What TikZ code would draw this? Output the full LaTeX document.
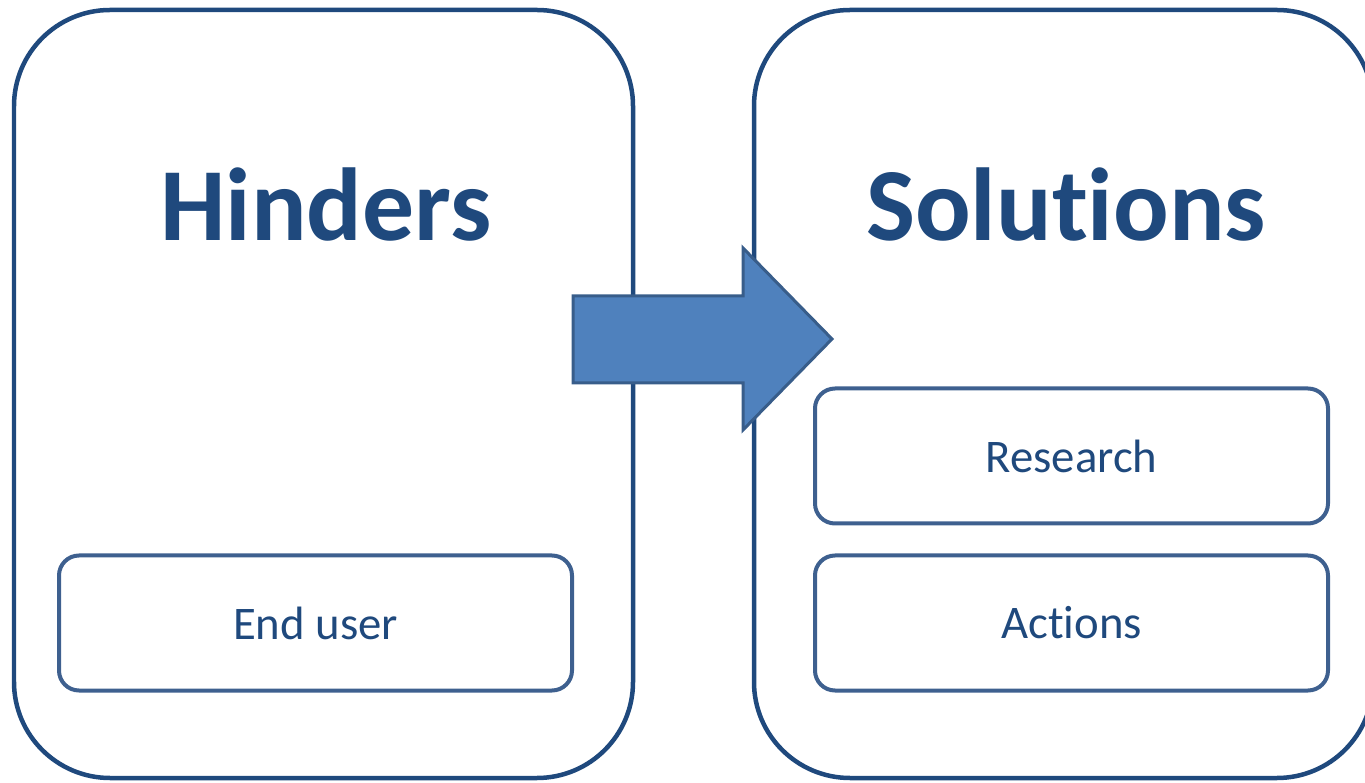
\documentclass[tikz,border=0pt]{standalone}
\usepackage{fontspec}
\setmainfont[Ligatures=NoCommon]{Carlito}
\usepackage{tikz}
\usetikzlibrary{shapes.geometric}

\definecolor{boxblue}{RGB}{31,73,125}
\definecolor{innerblue}{RGB}{62,96,143}
\definecolor{arrowfill}{RGB}{79,129,189}
\definecolor{arrowline}{RGB}{56,93,138}

\begin{document}
\begin{tikzpicture}
\tikzstyle{bigbox}=[rectangle, draw=boxblue, line width=0.09cm, rounded corners=1.92cm,
    minimum width = 12.38cm, minimum height = 15.36cm]
\tikzstyle{itembox}=[rectangle, draw=innerblue, line width=0.08cm, rounded corners=0.4cm,
    minimum width = 10.26cm, minimum height = 2.7cm, text=boxblue,
    font=\fontsize{26.6}{31}\selectfont]
\tikzstyle{title}=[anchor=base, text=boxblue, inner sep=0pt,
    font=\fontsize{59}{70}\selectfont\bfseries]
\useasboundingbox (0,0) rectangle (27.3,15.64);

    \node[bigbox] (hind) at (6.47,7.76) {};
    \node[bigbox] (sol) at (21.27,7.76) {};

    \node[title] (hindlbl) at (6.52,10.82) {Hinders};
    \node[title] (sollbl) at (21.32,10.82) {Solutions};

    \node[itembox] (enduser) at (6.31,3.18) {End user};
    \node[itembox] (research) at (21.43,6.52) {Research};
    \node[itembox] (actions) at (21.43,3.18) {Actions};

% block arrow
\draw[fill=arrowfill, draw=arrowline, line width=0.06cm, line join=miter]
    (11.46,9.72) -- (14.86,9.72) -- (14.86,10.68) -- (16.64,8.86)
    -- (14.86,7.04) -- (14.86,7.98) -- (11.46,7.98) -- cycle;
\end{tikzpicture}
\end{document}
